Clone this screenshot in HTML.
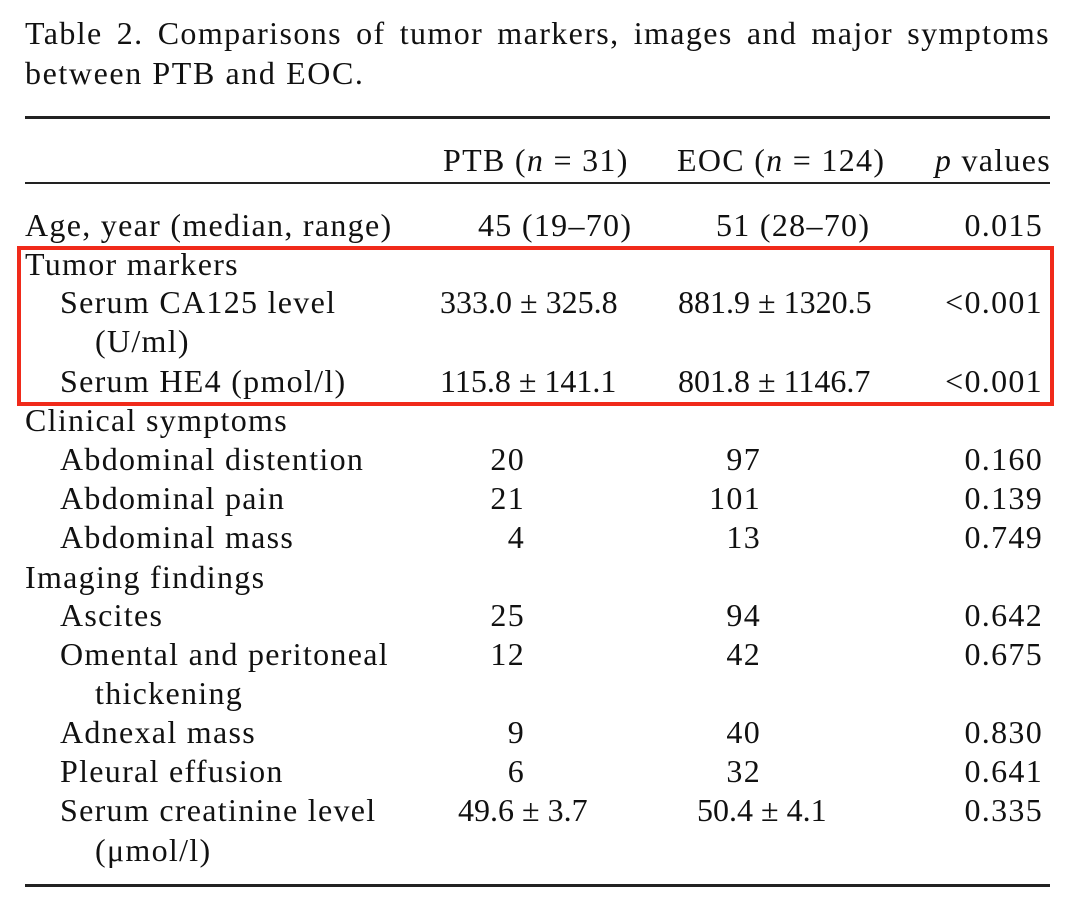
<!DOCTYPE html>
<html><head><meta charset="utf-8"><style>
body{margin:0;width:1080px;height:918px;background:#fff;position:relative;font-family:"Liberation Serif",serif;color:#111;overflow:hidden}
.t{position:absolute;font-size:32px;letter-spacing:1.3px;line-height:40px;white-space:nowrap}
.r{text-align:right}
.rule{position:absolute;left:25px;width:1025px;background:#222}
</style></head><body>
<div class="t" style="left:25px;top:13px;width:1025px;text-align:justify;text-align-last:justify;letter-spacing:1.4px">Table 2. Comparisons of tumor markers, images and major symptoms</div>
<div class="t" style="left:25px;top:53px;letter-spacing:1.6px">between PTB and EOC.</div>
<div class="rule" style="top:116px;height:3px"></div>
<div class="rule" style="top:182px;height:2px"></div>
<div class="rule" style="top:884px;height:3px"></div>
<div style="position:absolute;left:17px;top:246px;width:1029px;height:152px;border:4px solid #f02a1a"></div>
<div class="t" style="left:443px;top:140px">PTB (<i>n</i> = 31)</div>
<div class="t" style="left:677px;top:140px">EOC (<i>n</i> = 124)</div>
<div class="t r" style="right:29px;top:140px"><i>p</i> values</div>
<script>
const labels=[["Age, year (median, range)",25,225],["Tumor markers",25,264],["Serum CA125 level",60,302],["(U/ml)",95,341],["Serum HE4 (pmol/l)",60,381],["Clinical symptoms",25,420],["Abdominal distention",60,459],["Abdominal pain",60,498],["Abdominal mass",60,537],["Imaging findings",25,577],["Ascites",60,615],["Omental and peritoneal",60,654],["thickening",95,693],["Adnexal mass",60,732],["Pleural effusion",60,771],["Serum creatinine level",60,810],["(μmol/l)",95,850]];
const ptb=[["45 (19–70)",225],["333.0 ± 325.8",302],["115.8 ± 141.1",381],["20",459],["21",498],["4",537],["25",615],["12",654],["9",732],["6",771],["49.6 ± 3.7",810]];
const eoc=[["51 (28–70)",225],["881.9 ± 1320.5",302],["801.8 ± 1146.7",381],["97",459],["101",498],["13",537],["94",615],["42",654],["40",732],["32",771],["50.4 ± 4.1",810]];
const pv=[["0.015",225],["<0.001",302],["<0.001",381],["0.160",459],["0.139",498],["0.749",537],["0.642",615],["0.675",654],["0.830",732],["0.641",771],["0.335",810]];
const root=document.body;
function mk(txt,style,name){const d=document.createElement('div');d.className='t';d.textContent=txt;d.style.cssText=style;


root.appendChild(d);}
labels.forEach(l=>mk(l[0],`left:${l[1]}px;top:${l[2]-20}px`,'row-label'));
ptb.forEach(v=>{const c=v[0].length>3;mk(v[0],c?`left:${v[0].length>10?440:(v[0].startsWith('49')?458:478)}px;top:${v[1]-20}px;${v[0].includes('±')?'letter-spacing:0px':''}`:`right:${1080-525}px;top:${v[1]-20}px`,'ptb-value');});
eoc.forEach(v=>{const c=v[0].length>3;mk(v[0],c?`left:${v[0].length>10?678:(v[0].startsWith('50')?697:716)}px;top:${v[1]-20}px;${v[0].includes('±')?'letter-spacing:0px':''}`:`right:${1080-761}px;top:${v[1]-20}px`,'eoc-value');});
pv.forEach(v=>mk(v[0],`right:${1080-1043}px;top:${v[1]-20}px`,'p-value'));
</script>
</body></html>
